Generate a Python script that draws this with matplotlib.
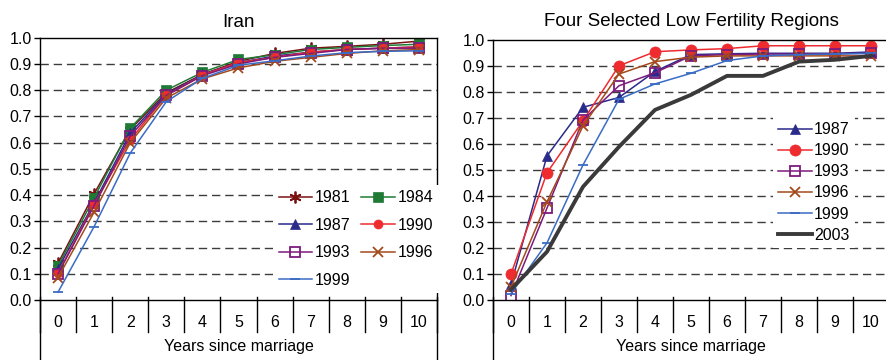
import numpy as np
import matplotlib.pyplot as plt

plt.rcParams['font.family'] = ['Liberation Sans', 'DejaVu Sans']

years = list(range(11))

# Iran, share of women with a first birth by years since marriage
iran_1981 = [0.14, 0.405, 0.65, 0.79, 0.86, 0.91, 0.94, 0.96, 0.967, 0.975, 0.987]
iran_1984 = [0.13, 0.39, 0.655, 0.80, 0.868, 0.917, 0.935, 0.955, 0.963, 0.97, 0.975]
iran_1987 = [0.12, 0.37, 0.637, 0.785, 0.86, 0.905, 0.93, 0.945, 0.955, 0.96, 0.965]
iran_1990 = [0.103, 0.365, 0.61, 0.78, 0.858, 0.905, 0.925, 0.945, 0.955, 0.96, 0.965]
iran_1993 = [0.10, 0.36, 0.625, 0.78, 0.855, 0.90, 0.925, 0.94, 0.955, 0.96, 0.96]
iran_1996 = [0.085, 0.335, 0.60, 0.77, 0.843, 0.885, 0.91, 0.925, 0.94, 0.95, 0.955]
iran_1999 = [0.03, 0.28, 0.56, 0.756, 0.845, 0.895, 0.912, 0.93, 0.943, 0.948, 0.95]

# four selected low fertility regions
low_1987 = [0.06, 0.555, 0.742, 0.78, 0.88, 0.945, 0.948, 0.95, 0.95, 0.95, 0.955]
low_1990 = [0.10, 0.49, 0.69, 0.902, 0.956, 0.963, 0.968, 0.979, 0.979, 0.979, 0.979]
low_1993 = [0.017, 0.354, 0.693, 0.825, 0.875, 0.94, 0.945, 0.947, 0.947, 0.948, 0.95]
low_1996 = [0.05, 0.378, 0.67, 0.87, 0.918, 0.935, 0.94, 0.94, 0.94, 0.94, 0.94]
low_1999 = [0.025, 0.22, 0.52, 0.773, 0.832, 0.873, 0.922, 0.94, 0.945, 0.947, 0.95]
low_2003 = [0.04, 0.186, 0.436, 0.59, 0.732, 0.79, 0.863, 0.863, 0.918, 0.925, 0.94]

iran_series = [
    ('1981', iran_1981, '#7a1214', (6, 2, 0), 'full'),
    ('1984', iran_1984, '#1f7a35', 's', 'full'),
    ('1987', iran_1987, '#2a2a8a', '^', 'full'),
    ('1990', iran_1990, '#ee2b2f', 'o', 'full'),
    ('1993', iran_1993, '#7d1a7d', 's', 'none'),
    ('1996', iran_1996, '#a34a1c', 'x', 'full'),
    ('1999', iran_1999, '#3a6cc4', '_', 'full'),
]

low_series = [
    ('1987', low_1987, '#2a2a8a', '^', 'full'),
    ('1990', low_1990, '#ee2b2f', 'o', 'full'),
    ('1993', low_1993, '#7d1a7d', 's', 'none'),
    ('1996', low_1996, '#a34a1c', 'x', 'full'),
    ('1999', low_1999, '#3a6cc4', '_', 'full'),
]

W, H = 887, 360
FS = 11.5
fig = plt.figure(figsize=(W / 100, H / 100), dpi=100)


def px_axes(x0, x1, ytop, ybot):
    return fig.add_axes([x0 / W, (H - ybot) / H, (x1 - x0) / W, (ybot - ytop) / H])


def style_axes(ax, title, title_pad, right_line):
    ax.set_xlim(-0.5, 10.5)
    ax.set_ylim(0, 1)
    ax.set_yticks(np.arange(0, 1.01, 0.1))
    ax.set_yticklabels(['%.1f' % v for v in np.arange(0, 1.01, 0.1)])
    ax.set_xticks(years)
    ax.tick_params(axis='x', length=0, pad=11, labelsize=FS)
    ax.tick_params(axis='y', length=4, width=1, direction='out', pad=2, labelsize=FS)
    for y in np.arange(0.1, 0.95, 0.1):
        ax.axhline(y, color='#3c3c3c', lw=1.0, ls=(0, (6, 3.5)), zorder=0.5)
    for s in ax.spines.values():
        s.set_linewidth(1.0)
        s.set_color('black')
    ax.spines['bottom'].set_zorder(3)
    # category separators below the axis
    tr = ax.get_xaxis_transform()
    for b in np.arange(-0.5, 10.6, 1):
        ax.plot([b, b], [0.012, -0.122], transform=tr, color='black',
                lw=1.0, clip_on=False)
    # the side frame lines run on down past the category labels
    ends = [-0.5, 10.5] if right_line else [-0.5]
    for b in ends:
        ax.plot([b, b], [0, -0.25], transform=tr, color='black', lw=1.0,
                clip_on=False)
    ax.set_title(title, fontsize=13.5, pad=title_pad)
    ax.set_xlabel('Years since marriage', fontsize=FS, labelpad=6)


def marker_size(ax, mk):
    if mk == 'o' and ax is ax2:
        return 8
    if mk == (6, 2, 0):
        return 8.5
    return 6.5 if mk != '_' else 7


def add_series(ax, series):
    for label, vals, col, mk, fill in series:
        ax.plot(years, vals, color=col, lw=1.1, marker=mk,
                ms=marker_size(ax, mk),
                mew=1.3 if fill == 'none' or mk in ('x', '_', (6, 2, 0)) else 0.5,
                fillstyle=fill, label=label, zorder=2)


ax1 = px_axes(40, 437, 37.7, 300)
ax2 = px_axes(493, 889, 40.3, 300)

add_series(ax1, iran_series)
style_axes(ax1, 'Iran', 8, True)
# legend is filled column by column, so order entries to read across rows
h, l = ax1.get_legend_handles_labels()
order = [0, 2, 4, 6, 1, 3, 5]
ax1.legend([h[i] for i in order], [l[i] for i in order], ncol=2,
           loc='upper left', bbox_to_anchor=(0.587, 0.44), borderaxespad=0,
           frameon=True, facecolor='white', edgecolor='none', framealpha=1,
           fancybox=False, fontsize=FS, handlelength=2.1, handletextpad=0.15,
           columnspacing=0.7, labelspacing=0.78, borderpad=0.35)

add_series(ax2, low_series)
ax2.plot(years, low_2003, color='#3a3a3a', lw=2.8, label='2003', zorder=2)
style_axes(ax2, 'Four Selected Low Fertility Regions', 10, False)
ax2.legend(ncol=1, loc='upper left', bbox_to_anchor=(0.706, 0.706),
           borderaxespad=0,
           frameon=True, facecolor='white', edgecolor='none', framealpha=1,
           fancybox=False, fontsize=FS, handlelength=2.1, handletextpad=0.15,
           labelspacing=0.38, borderpad=0.35)

fig.savefig('out.png', dpi=100)
